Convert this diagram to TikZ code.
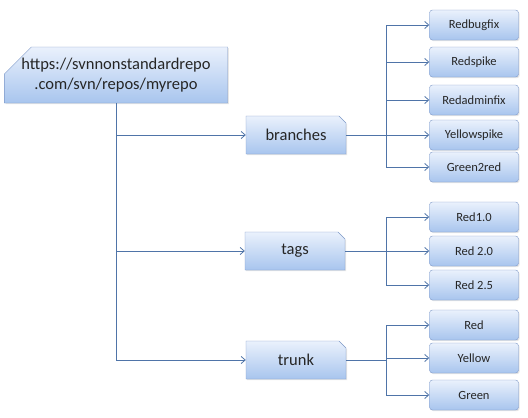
\documentclass[tikz,border=0pt]{standalone}
\usepackage{fontspec}
\setmainfont{Carlito}
\usetikzlibrary{arrows.meta,shapes.misc,shadows}
\definecolor{linkblue}{RGB}{79,116,168}
\definecolor{boxline}{RGB}{125,152,200}
\definecolor{boxtop}{RGB}{234,241,252}
\definecolor{boxbottom}{RGB}{168,197,238}
\tikzset{
  box/.style={draw=boxline, top color=boxtop, bottom color=boxbottom, inner sep=0pt,
    text=black!85, drop shadow={opacity=0.2, shadow xshift=1.2pt, shadow yshift=-1.2pt}},
  rootbox/.style={box, chamfered rectangle, chamfered rectangle corners=north west,
    chamfered rectangle xsep=41pt, chamfered rectangle ysep=10pt,
    minimum width=204pt, minimum height=56pt, align=center,
    font=\fontsize{16.5}{20}\selectfont},
  dirbox/.style={box, chamfered rectangle, chamfered rectangle corners=north east,
    chamfered rectangle sep=3.5pt, minimum width=100pt, minimum height=38pt,
    font=\fontsize{16.5}{18}\selectfont},
  leafbox/.style={box, rounded corners=3pt, minimum width=89pt, minimum height=30pt,
    font=\fontsize{12.5}{14}\selectfont},
  wire/.style={draw=linkblue, line width=0.8pt},
  link/.style={wire, -{Straight Barb[length=4pt,width=7pt]}}
}
\begin{document}
\begin{tikzpicture}[x=1pt, y=-1pt]
  \useasboundingbox (0,0) rectangle (528,418);
  % repository and its folders
  \node[rootbox] (repo) at (116,75) {https://svnnonstandardrepo\\.com/svn/repos/myrepo};
  \node[dirbox] (branches) at (296,135) {branches};
  \node[dirbox] (tags) at (295,251) {tags};
  \node[dirbox] (trunk) at (296,360) {trunk};
  % branch leaves
  \node[leafbox] (redbugfix) at (474,25) {Redbugfix};
  \node[leafbox] (redspike) at (474,62) {Redspike};
  \node[leafbox] (redadminfix) at (474,100) {Redadminfix};
  \node[leafbox] (yellowspike) at (474,135) {Yellowspike};
  \node[leafbox] (green2red) at (474,167) {Green2red};
  % tag leaves
  \node[leafbox] (red10) at (474,217) {Red1.0};
  \node[leafbox] (red20) at (474,251) {Red 2.0};
  \node[leafbox] (red25) at (474,285) {Red 2.5};
  % trunk leaves
  \node[leafbox] (red) at (474,325) {Red};
  \node[leafbox] (yellow) at (474,358) {Yellow};
  \node[leafbox] (green) at (474,395) {Green};
  \coordinate (bspine) at (386,135);
  \coordinate (tspine) at (386,251);
  \coordinate (kspine) at (386,360);
  \begin{scope}[link]
    \draw (repo.south) |- (branches.west);
    \draw (repo.south) |- (tags.west);
    \draw (repo.south) |- (trunk.west);
    \draw[wire,-] (branches.east) -- (bspine);
    \draw (bspine) |- (redbugfix.west);
    \draw (bspine) |- (redspike.west);
    \draw (bspine) |- (redadminfix.west);
    \draw (bspine) |- (yellowspike.west);
    \draw (bspine) |- (green2red.west);
    \draw[wire,-] (tags.east) -- (tspine);
    \draw (tspine) |- (red10.west);
    \draw (tspine) |- (red20.west);
    \draw (tspine) |- (red25.west);
    \draw[wire,-] (trunk.east) -- (kspine);
    \draw (kspine) |- (red.west);
    \draw (kspine) |- (yellow.west);
    \draw (kspine) |- (green.west);
  \end{scope}
\end{tikzpicture}
\end{document}
